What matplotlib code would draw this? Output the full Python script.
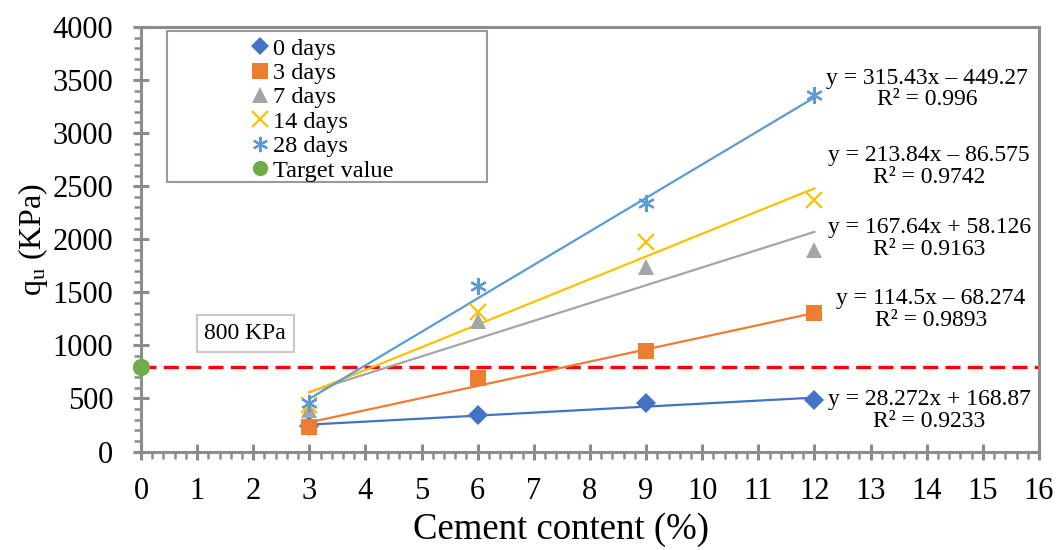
import matplotlib
matplotlib.use("Agg")
import matplotlib.pyplot as plt
from matplotlib.patches import Rectangle
from matplotlib.ticker import MultipleLocator
from matplotlib.lines import Line2D

plt.rcParams["font.family"] = ["Liberation Serif", "DejaVu Serif"]
plt.rcParams["mathtext.fontset"] = "custom"
plt.rcParams["mathtext.rm"] = "Liberation Serif"
plt.rcParams["mathtext.it"] = "Liberation Serif:italic"

# Unconfined compressive strength vs cement content, by curing time
cement = [3, 6, 9, 12]
series_names = ["0 days", "3 days", "7 days", "14 days", "28 days"]
qu_0d = [240, 345, 455, 490]
qu_3d = [235, 690, 950, 1305]
qu_7d = [390, 1230, 1735, 1900]
qu_14d = [440, 1310, 1975, 2370]
qu_28d = [460, 1555, 2345, 3360]

# Linear trendlines (slope, intercept, R²)
slopes = [28.272, 114.5, 167.64, 213.84, 315.43]
intercepts = [168.87, -68.274, 58.126, -86.575, -449.27]
r2_values = ["0.9233", "0.9893", "0.9163", "0.9742", "0.996"]

target_x = 0
target_qu = 800

colors = ["#4472C4", "#ED7D31", "#A5A5A5", "#FFC000", "#5B9BD5"]
markers = ["D", "s", "^", "x", (6, 2, 0)]
msizes = [10, 12, 12, 12, 12]
series = [qu_0d, qu_3d, qu_7d, qu_14d, qu_28d]

# equation label anchors (x, y) in data units
eq_pos = [(14.05, 388), (14.07, 1339), (14.05, 2010), (14.04, 2682), (14.01, 3415)]

fig = plt.figure(figsize=(10.59, 5.5), dpi=100)
ax = fig.add_axes([0.1331, 0.179, 0.8480, 0.772])

ax.set_xlim(0, 16)
ax.set_ylim(0, 4000)

# target threshold
ax.axhline(target_qu, color="#FF0000", lw=2.4, ls=(0, (4.5, 2.2)), zorder=2)


def marker_style(m, ms, c):
    if m == "x" or isinstance(m, tuple):
        return dict(marker=m, ms=ms, mew=1.6, color=c)
    return dict(marker=m, ms=ms, mew=0, color=c)


for name, ys, c, m, ms, a, b in zip(series_names, series, colors, markers, msizes, slopes, intercepts):
    xs = [cement[0], cement[-1]]
    ax.plot(xs, [a * x + b for x in xs], color=c, lw=1.6, zorder=3)
    ax.plot(cement, ys, ls="none", zorder=4, **marker_style(m, ms, c))

ax.plot([target_x], [target_qu], ls="none", marker="o", ms=12.5, color="#70AD47",
        mew=0, zorder=6, clip_on=False)

for (ex, ey), a, b, r2 in zip(eq_pos, slopes, intercepts, r2_values):
    sign = "+" if b >= 0 else "\u2013"
    txt = f"y = {a:g}x {sign} {abs(b):g}\nR\u00b2 = {r2}"
    ax.text(ex, ey, txt, ha="center", va="center", fontsize=17, linespacing=1.05, zorder=7)

# threshold label
ax.text(1.86, 1112, "800 KPa", ha="center", va="center", fontsize=17,
        bbox=dict(boxstyle="square,pad=0.33", fc="white", ec="#C8C8C8", lw=1.5))

# axes styling
spine_c = "#8C8C8C"
for s in ax.spines.values():
    s.set_color(spine_c)
    s.set_linewidth(2.2)
ax.xaxis.set_major_locator(MultipleLocator(1))
ax.xaxis.set_minor_locator(MultipleLocator(0.2))
ax.yaxis.set_major_locator(MultipleLocator(500))
ax.yaxis.set_minor_locator(MultipleLocator(100))
ax.tick_params(which="major", direction="inout", length=12, width=2.2, color=spine_c,
               labelsize=22)
ax.tick_params(which="minor", direction="out", length=5, width=1.8, color=spine_c)
ax.tick_params(axis="y", which="major", pad=14)
ax.tick_params(axis="x", which="major", pad=12)

ax.set_xlabel("Cement content (%)", fontsize=26.5, labelpad=2)
ax.xaxis.set_label_coords(0.468, -0.143)
ax.set_ylabel("q$_\\mathregular{u}$ (KPa)", fontsize=23, labelpad=2)

# legend
handles = [Line2D([], [], ls="none", label=name, **marker_style(m, ms - 1, c))
           for name, c, m, ms in zip(series_names, colors, markers, msizes)]
handles.append(Line2D([], [], ls="none", marker="o", ms=11, mew=0, color="#70AD47",
                      label="Target value"))

box = Rectangle((0.0295, 0.635), 0.3555, 0.355, transform=ax.transAxes, fill=True,
                fc="white", ec="#9A9A9A", lw=1.5, zorder=8)
ax.add_patch(box)
leg = ax.legend(handles=handles, loc="upper left", bbox_to_anchor=(0.1025, 1.015),
                frameon=False, fontsize=17.5, handlelength=0.8, handletextpad=0.15,
                labelspacing=0.1, borderpad=0.2)
leg.set_zorder(9)

fig.savefig("out.png", dpi=100)
